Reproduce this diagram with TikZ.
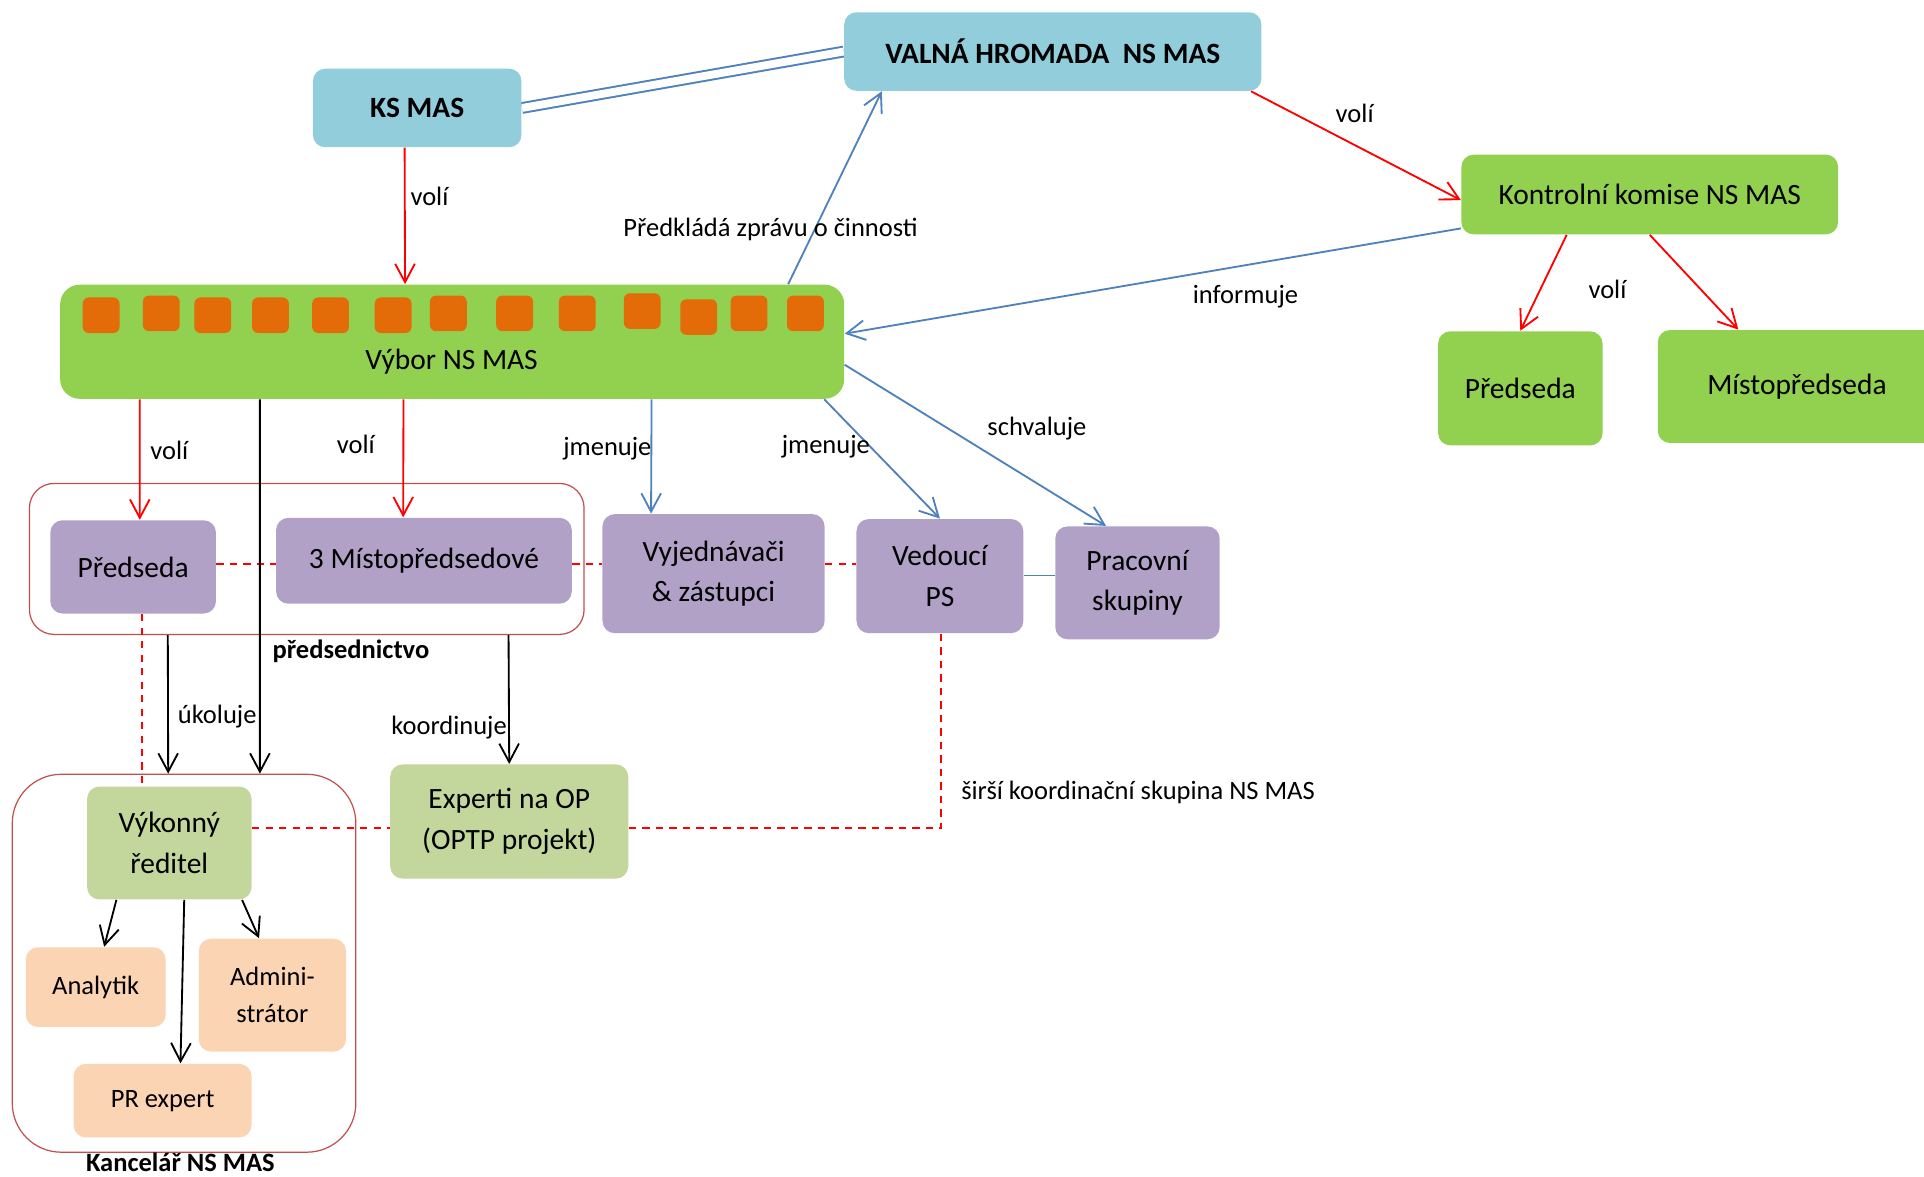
\documentclass[tikz,border=0pt]{standalone}
\usepackage{fontspec}
\setmainfont{Carlito}
\usetikzlibrary{arrows.meta,calc}
\definecolor{cblue}{HTML}{92CDDC}
\definecolor{cgreen}{HTML}{92D050}
\definecolor{corange}{HTML}{E36C09}
\definecolor{cpurple}{HTML}{B2A1C7}
\definecolor{colive}{HTML}{C3D69B}
\definecolor{cpeach}{HTML}{FBD4B4}
\definecolor{lblue}{HTML}{4F81BD}
\definecolor{lred}{HTML}{FF0000}
\definecolor{cframe}{HTML}{C0504D}
\pgfdeclarelayer{bg}
\pgfsetlayers{bg,main}
\begin{document}
\begin{tikzpicture}[x=0.5pt,y=-0.5pt,
  bx/.style={rounded corners=5pt, inner sep=0pt, draw=none, align=center, font=\fontsize{12}{16.5}\selectfont},
  sbx/.style={bx, font=\fontsize{10.8}{15}\selectfont},
  sz/.style 2 args={minimum width=#1, minimum height=#2},
  sq/.style={fill=corange, rounded corners=2.5pt, draw=none, inner sep=0pt, minimum width=15pt, minimum height=14.5pt, anchor=north west},
  frame/.style={draw=cframe, line width=0.5pt, inner sep=0pt},
  lbl/.style={font=\fontsize{10.8}{13}\selectfont, inner sep=0pt},
  tip/.style={-{Straight Barb[length=7.5pt,width=8pt]}},
  ra/.style={tip, draw=lred, line width=0.75pt},
  ba/.style={tip, draw=lblue, line width=0.75pt},
  ka/.style={tip, draw=black, line width=0.75pt},
  rd/.style={draw=lred, line width=0.8pt, dash pattern=on 3pt off 2.5pt},
]
\useasboundingbox (0,0) rectangle (1568,959);
\clip (0,0) rectangle (1568,959);

% containers
\node[frame, rounded corners=10pt, sz={226pt}{61.5pt}] (pres) at (250,455.5) {};
\node[frame, rounded corners=20pt, sz={140pt}{154pt}] (kanc) at (150,785) {};

% top boxes
\node[bx, fill=cblue, sz={170pt}{32pt}] (valna) at (858,42) {\bfseries VALNÁ HROMADA\ \ NS MAS};
\node[bx, fill=cblue, sz={85pt}{32pt}] (ks) at (340,88) {\bfseries KS MAS};
\node[bx, fill=cgreen, sz={153.5pt}{32.5pt}] (kk) at (1344.5,158.5) {Kontrolní komise NS MAS};
\node[bx, fill=cgreen, sz={67pt}{46.5pt}] (kpred) at (1239,316.5) {Předseda};
\node[bx, fill=cgreen, sz={113.5pt}{46pt}] (kmisto) at (1464.5,315) {Místopředseda};

% Vybor
\node[bx, rounded corners=8pt, fill=cgreen, sz={319.5pt}{46.5pt}] (vybor) at (368.5,278.5) {};
\foreach \x/\y [count=\i] in {67/242,116/240.5,158/242,205/242,254/242,305/242,350/240.5,404/240.5,455/240.5,508/238.6,554/243.5,595/240.5,641/240.5}
  \node[sq] (sq\i) at (\x,\y) {};
\node[bx] (vybort) at (368,295) {Výbor NS MAS};

% purple row
\node[bx, fill=cpurple, sz={67.5pt}{38pt}] (pred) at (108.5,462) {Předseda};
\node[bx, fill=cpurple, sz={120.5pt}{35pt}] (misto) at (345.5,457) {3 Místopředsedové};
\node[bx, fill=cpurple, sz={90.5pt}{48.5pt}] (vyj) at (581.5,467.5) {Vyjednávači\\\& zástupci};
\node[bx, fill=cpurple, sz={68pt}{46.5pt}] (ved) at (766,469.5) {Vedoucí\\PS};
\node[bx, fill=cpurple, sz={67pt}{46pt}] (prac) at (927,475) {Pracovní\\skupiny};

% lower boxes
\node[bx, fill=colive, sz={67pt}{46pt}] (vyk) at (138,687) {Výkonný\\ředitel};
\node[bx, fill=colive, sz={97pt}{46.5pt}] (exp) at (415,669.5) {Experti na OP\\(OPTP projekt)};
\node[sbx, fill=cpeach, sz={57pt}{32.5pt}] (anal) at (78,804.5) {Analytik};
\node[sbx, fill=cpeach, sz={60pt}{46pt}] (adm) at (222,811) {Admini-\\strátor};
\node[sbx, fill=cpeach, sz={72.5pt}{30pt}] (pr) at (132.5,897) {PR expert};

% double line KS -- Valna
\begin{pgfonlayer}{bg}
\draw[lblue, line width=0.8pt, double=white, double distance=3.2pt] (ks.east) -- (valna.west);
\end{pgfonlayer}

% dashed red lines
\coordinate (dl) at (0,460);
\draw[rd] (pred.east |- dl) -- (misto.west |- dl);
\draw[rd] (misto.east |- dl) -- (vyj.west |- dl);
\draw[rd] (vyj.east |- dl) -- (ved.west |- dl);
\coordinate (dv) at (116,0);
\draw[rd] (pred.south -| dv) -- (vyk.north -| dv);
\coordinate (dh) at (0,675);
\coordinate (dc) at (767,0);
\draw[rd] (vyk.east |- dh) -- (exp.west |- dh);
\draw[rd] (exp.east |- dh) -- (dc |- dh) -- (ved.south -| dc);

% blue line Vedouci -- Pracovni
\coordinate (bl) at (0,469);
\draw[lblue, line width=0.8pt] (ved.east |- bl) -- (prac.west |- bl);

% arrows
\draw[ra] ($(ks.south west)!.44!(ks.south east)$) -- ($(vybor.north west)!.44!(vybor.north east)$);
\draw[ba] ($(vybor.north west)!.928!(vybor.north east)$) -- ($(valna.south west)!.091!(valna.south east)$);
\draw[ra] ($(valna.south west)!.974!(valna.south east)$) -- ($(kk.north west)!.57!(kk.south west)$);
\draw[ba] ($(kk.north west)!.92!(kk.south west)$) -- ($(vybor.north east)!.43!(vybor.south east)$);
\draw[ra] ($(kk.south west)!.28!(kk.south east)$) -- (kpred.north);
\draw[ra] (kk.south) -- ($(kmisto.north west)!.29!(kmisto.north east)$);
\draw[ra] ($(vybor.south west)!.102!(vybor.south east)$) -- ($(pred.north west)!.54!(pred.north east)$);
\draw[ra] ($(vybor.south west)!.438!(vybor.south east)$) -- ($(misto.north west)!.43!(misto.north east)$);
\draw[ka] ($(vybor.south west)!.255!(vybor.south east)$) -- ($(kanc.north west)!.72!(kanc.north east)$);
\draw[ba] ($(vybor.south west)!.754!(vybor.south east)$) -- ($(vyj.north west)!.22!(vyj.north east)$);
\draw[ba] ($(vybor.south west)!.974!(vybor.south east)$) -- (ved.north);
\draw[ba] ($(vybor.north east)!.70!(vybor.south east)$) -- ($(prac.north west)!.31!(prac.north east)$);
\draw[ka] ($(pres.south west)!.25!(pres.south east)$) -- ($(kanc.north west)!.454!(kanc.north east)$);
\draw[ka] ($(pres.south west)!.863!(pres.south east)$) -- (exp.north);
\draw[ka] ($(vyk.south west)!.18!(vyk.south east)$) -- ($(anal.north west)!.56!(anal.north east)$);
\draw[ka] ($(vyk.south west)!.59!(vyk.south east)$) -- ($(pr.north west)!.6!(pr.north east)$);
\draw[ka] ($(vyk.south west)!.94!(vyk.south east)$) -- ($(adm.north west)!.41!(adm.north east)$);

% labels
\node[lbl] (l1) at (350,160) {volí};
\node[lbl] (l2) at (628,187) {Předkládá zprávu o činnosti};
\node[lbl] (l3) at (1104,92) {volí};
\node[lbl] (l4) at (1015,242) {informuje};
\node[lbl] (l5) at (1310,236) {volí};
\node[lbl] (l6) at (138,367) {volí};
\node[lbl] (l7) at (290,362) {volí};
\node[lbl] (l8) at (495,366) {jmenuje};
\node[lbl] (l9) at (673,364) {jmenuje};
\node[lbl] (l10) at (845,349) {schvaluje};
\node[lbl] (l11) at (286,531) {\bfseries předsednictvo};
\node[lbl] (l12) at (177,584) {úkoluje};
\node[lbl] (l13) at (366,593) {koordinuje};
\node[lbl, anchor=west] (l14) at (783,646) {širší koordinační skupina NS MAS};
\node[lbl] (l15) at (147,947) {\bfseries Kancelář NS MAS};
\end{tikzpicture}
\end{document}
